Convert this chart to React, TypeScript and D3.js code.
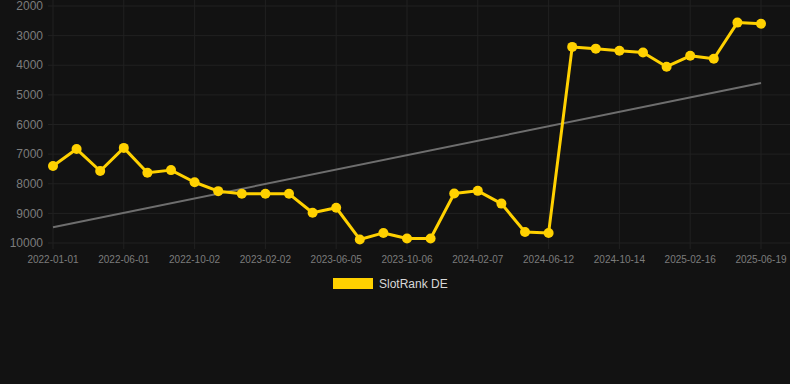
import React from "react";
import * as d3 from "d3";

const categories: string[] = [
  "2022-01-01", "2022-02-20", "2022-04-11", "2022-06-01", "2022-07-12", "2022-08-22",
  "2022-10-02", "2022-11-12", "2022-12-23", "2023-02-02", "2023-03-15", "2023-04-25",
  "2023-06-05", "2023-07-16", "2023-08-26", "2023-10-06", "2023-11-16", "2023-12-27",
  "2024-02-07", "2024-03-19", "2024-05-01", "2024-06-12", "2024-07-23", "2024-09-02",
  "2024-10-14", "2024-11-24", "2025-01-05", "2025-02-16", "2025-03-29", "2025-05-09",
  "2025-06-19",
];

const rankValues: number[] = [
  7400, 6830, 7570, 6790, 7630, 7540, 7950, 8250, 8340, 8340, 8340, 8980,
  8810, 9880, 9660, 9850, 9850, 8330, 8240, 8670, 9630, 9660, 3380, 3440,
  3510, 3570, 4050, 3680, 3780, 2560, 2600,
];

const trendValues: number[] = [9470, 4600];

const yTicks: number[] = [2000, 3000, 4000, 5000, 6000, 7000, 8000, 9000, 10000];

const seriesName = "SlotRank DE";

const W = 790;
const H = 384;
const FONT = "'Liberation Sans', Arial, Helvetica, sans-serif";

export default function App() {
  const x = d3.scalePoint<string>().domain(categories).range([53, 761]);
  const y = d3.scaleLinear().domain([2000, 10000]).range([6, 243]);

  const line = d3
    .line<number>()
    .x((_, i) => x(categories[i]) as number)
    .y((d) => y(d));

  const trendX = [x(categories[0]) as number, x(categories[categories.length - 1]) as number];

  const labeled = categories.filter((_, i) => i % 3 === 0);

  return (
    <svg
      width={W}
      height={H}
      style={{ position: "fixed", left: 0, top: 0, display: "block" }}
    >
      <rect x={0} y={0} width={W} height={H} fill="#121212" />
      {/* horizontal grid */}
      {yTicks.map((t) => (
        <line key={"h" + t} x1={48} x2={W} y1={y(t)} y2={y(t)} stroke="#212121" strokeWidth={1} />
      ))}
      {/* vertical grid */}
      {labeled.map((c) => (
        <line key={"v" + c} x1={x(c)} x2={x(c)} y1={0} y2={249} stroke="#212121" strokeWidth={1} />
      ))}
      {/* y labels */}
      {yTicks.map((t) => (
        <text
          key={"yl" + t}
          x={43}
          y={y(t)}
          dy="0.35em"
          textAnchor="end"
          fill="#7c7c7c"
          fontSize={12}
          fontFamily={FONT}
        >
          {t}
        </text>
      ))}
      {/* x labels */}
      {labeled.map((c) => (
        <text
          key={"xl" + c}
          x={x(c)}
          y={259}
          dy="0.35em"
          textAnchor="middle"
          fill="#7c7c7c"
          fontSize={10}
          fontFamily={FONT}
        >
          {c}
        </text>
      ))}
      {/* trend line */}
      <line
        x1={trendX[0]}
        x2={trendX[1]}
        y1={y(trendValues[0])}
        y2={y(trendValues[1])}
        stroke="#6e6e6e"
        strokeWidth={2}
      />
      {/* series */}
      <path d={line(rankValues) || ""} fill="none" stroke="#ffd100" strokeWidth={3} strokeLinejoin="round" />
      {rankValues.map((v, i) => (
        <circle key={"p" + i} cx={x(categories[i])} cy={y(v)} r={5} fill="#ffd100" />
      ))}
      {/* legend */}
      <rect x={333} y={278} width={40} height={11} fill="#ffd100" />
      <text x={379} y={284} dy="0.35em" fill="#d8d8d8" fontSize={12} fontFamily={FONT}>
        {seriesName}
      </text>
    </svg>
  );
}
